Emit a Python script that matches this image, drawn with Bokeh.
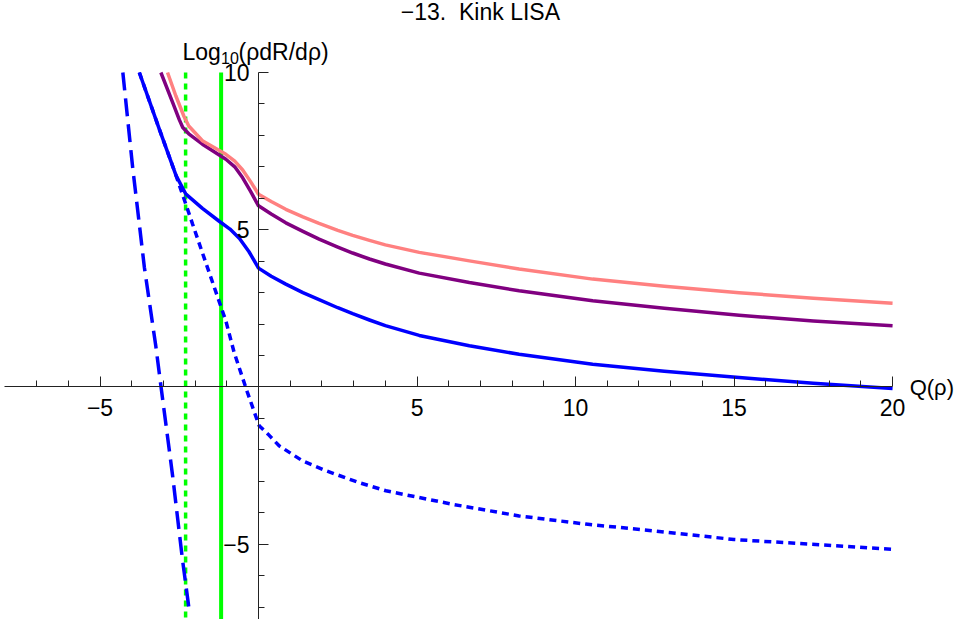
from bokeh.plotting import figure
from bokeh.models import Range1d, LinearAxis, FixedTicker, Label
from bokeh.embed import file_html
from bokeh.resources import INLINE

# ---------------- data ----------------
title_text = "\u221213. \u00a0Kink LISA"
x_label = "Q(\u03c1)"

x_major = [-5, 5, 10, 15, 20]
x_minor = [-7, -6, -4, -3, -2, -1, 1, 2, 3, 4, 6, 7, 8, 9, 11, 12, 13, 14, 16, 17, 18, 19]
y_major = [-5, 5, 10]
y_minor = [-7, -6, -4, -3, -2, -1, 1, 2, 3, 4, 6, 7, 8, 9]

pink_x = [-2.87, -2.61, -2.35, -2.20, -1.77, -1.03, -0.75, -0.50, -0.25, 0.0, 0.40, 0.86, 1.40, 1.91, 2.50, 2.97, 3.50, 4.0, 5.07, 6.65, 8.22, 10.54, 12.8, 15.16, 17.5, 20.0]
pink_y = [10.0, 9.26, 8.60, 8.30, 7.83, 7.40, 7.18, 6.90, 6.53, 6.13, 5.90, 5.65, 5.41, 5.20, 4.98, 4.82, 4.66, 4.52, 4.28, 4.01, 3.75, 3.43, 3.20, 3.00, 2.82, 2.66]

purple_x = [-3.08, -2.71, -2.50, -2.39, -2.20, -1.77, -1.03, -0.75, -0.50, -0.25, 0.0, 0.40, 0.86, 1.40, 1.91, 2.50, 2.97, 3.50, 4.0, 5.07, 6.65, 8.22, 10.54, 12.8, 15.16, 17.5, 20.0]
purple_y = [10.0, 9.05, 8.50, 8.25, 8.05, 7.72, 7.24, 7.00, 6.65, 6.22, 5.76, 5.50, 5.22, 4.95, 4.70, 4.45, 4.26, 4.07, 3.91, 3.62, 3.32, 3.06, 2.74, 2.50, 2.28, 2.10, 1.95]

blue_x = [-3.76, -3.13, -2.60, -2.29, -1.77, -1.24, -0.90, -0.60, -0.30, 0.0, 0.40, 0.86, 1.40, 1.91, 2.50, 2.97, 3.50, 4.0, 5.07, 6.65, 8.22, 10.54, 12.8, 15.16, 17.5, 20.0]
blue_y = [10.0, 8.20, 6.72, 6.13, 5.68, 5.27, 5.02, 4.72, 4.30, 3.78, 3.52, 3.27, 3.00, 2.78, 2.52, 2.33, 2.13, 1.95, 1.64, 1.31, 1.04, 0.72, 0.50, 0.30, 0.12, -0.05]

dotted_x = [-3.76, -3.13, -2.60, -2.08, -1.55, -1.03, -0.77, -0.35, -0.09, 0.02, 0.30, 0.65, 1.39, 2.12, 3.17, 4.02, 6.12, 8.22, 10.32, 12.43, 15.0, 20.0]
dotted_y = [10.0, 8.20, 6.72, 5.18, 3.62, 2.10, 1.10, -0.17, -0.92, -1.23, -1.50, -1.87, -2.35, -2.66, -3.04, -3.30, -3.73, -4.10, -4.36, -4.57, -4.85, -5.16]

dashed_x = [-4.28, -3.97, -3.60, -3.24, -3.08, -2.71, -2.40, -2.17]
dashed_y = [10.0, 6.98, 3.80, 1.30, 0.04, -2.82, -5.48, -7.22]

green_dotted_x = -2.30
green_solid_x = -1.18
green_y = [10.0, -8.0]

# ---------------- figure ----------------
p = figure(width=958, height=619,
           x_range=Range1d(-8.139, 22.08), y_range=Range1d(-7.393, 12.289),
           output_backend="svg", toolbar_location=None,
           x_axis_location=None, y_axis_location=None,
           min_border=0, background_fill_color="white", border_fill_color="white")
p.outline_line_color = None
for g in p.grid:
    g.visible = False

FONT = "Liberation Sans"
minus = "\u2212"
AX = "#222222"

xaxis = LinearAxis(fixed_location=0, bounds=(-8, 20),
                   ticker=FixedTicker(ticks=x_major, minor_ticks=x_minor),
                   major_tick_in=10, major_tick_out=0, minor_tick_in=6, minor_tick_out=0,
                   axis_line_color=AX, major_tick_line_color=AX, minor_tick_line_color=AX,
                   major_label_text_font=FONT, major_label_text_font_size="23px",
                   major_label_text_color="black", major_label_standoff=12,
                   major_label_overrides={t: (minus + str(abs(t)) if t < 0 else str(t)) for t in x_major})
p.add_layout(xaxis, "below")

yaxis = LinearAxis(fixed_location=0, bounds=(-7.8, 10),
                   ticker=FixedTicker(ticks=y_major, minor_ticks=y_minor),
                   major_tick_in=10, major_tick_out=0, minor_tick_in=6, minor_tick_out=0,
                   axis_line_color=AX, major_tick_line_color=AX, minor_tick_line_color=AX,
                   major_label_text_font=FONT, major_label_text_font_size="23px",
                   major_label_text_color="black", major_label_standoff=9,
                   major_label_overrides={t: (minus + str(abs(t)) if t < 0 else str(t)) for t in y_major})
p.add_layout(yaxis, "left")

# green vertical lines (drawn first)
p.line([green_solid_x, green_solid_x], green_y, line_color="#00FF00", line_width=4)
p.line([green_dotted_x, green_dotted_x], green_y, line_color="#00FF00", line_width=3.5,
       line_dash="6 5", line_cap="butt")

# curves
p.line(dashed_x, dashed_y, line_color="#0000FF", line_width=3.5, line_dash="18 8", line_cap="butt")
p.line(dotted_x, dotted_y, line_color="#0000FF", line_width=3.5, line_dash="7 5", line_cap="butt")
p.line(blue_x, blue_y, line_color="#0000FF", line_width=3.5, line_join="round")
p.line(purple_x, purple_y, line_color="#800080", line_width=3.5, line_join="round")
p.line(pink_x, pink_y, line_color="#FF8080", line_width=3.5, line_join="round")

# texts
p.add_layout(Label(x=7.0, y=11.91, text=title_text, text_align="center", text_baseline="middle",
                   text_font=FONT, text_font_size="23px", text_color="black"))
p.add_layout(Label(x=20.54, y=-0.02, text=x_label, text_align="left", text_baseline="middle",
                   text_font=FONT, text_font_size="22px", text_color="black"))
p.add_layout(Label(x=-2.40, y=10.64, text="Log", text_align="left", text_baseline="alphabetic",
                   text_font=FONT, text_font_size="23px", text_color="black"))
p.add_layout(Label(x=-1.18, y=10.45, text="10", text_align="left", text_baseline="alphabetic",
                   text_font=FONT, text_font_size="16px", text_color="black"))
p.add_layout(Label(x=-0.63, y=10.64, text="(\u03c1dR/d\u03c1)", text_align="left", text_baseline="alphabetic",
                   text_font=FONT, text_font_size="23px", text_color="black"))

open("out.html", "w").write(file_html(p, INLINE))
